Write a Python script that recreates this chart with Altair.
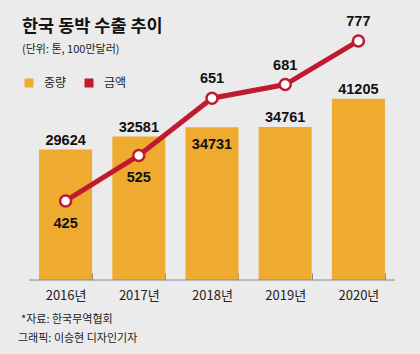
import altair as alt
import pandas as pd

years = ["2016년", "2017년", "2018년", "2019년", "2020년"]
weights = [29624, 32581, 34731, 34761, 41205]
amounts = [425, 525, 651, 681, 777]
series_names = ["중량", "금액"]

title_text = "한국 동박 수출 추이"
unit_text = "(단위: 톤, 100만달러)"
source_text = "*자료: 한국무역협회"
credit_text = "그래픽: 이승현 디자인기자"

ORANGE = "#EFAB30"
RED = "#C01A30"
BG = "#EBEBEB"
KFONT = "Noto Sans CJK KR"
NFONT = "Liberation Sans"

df = pd.DataFrame({"year": years, "weight": weights, "amount": amounts})
df["series"] = series_names[0]

x = alt.X(
    "year:N",
    sort=years,
    scale=alt.Scale(paddingInner=0.276, paddingOuter=0.138),
    axis=alt.Axis(
        title=None, domain=False, grid=False, tickBand="extent", tickSize=7,
        tickColor="#8a8a8a", tickWidth=1, offset=-7, labelPadding=9,
        labelFont=KFONT, labelFontSize=13, labelColor="#222222", labelAngle=0,
    ),
)
yb = alt.Y("weight:Q", scale=alt.Scale(domain=[0, 56800]), axis=None)
yl = alt.Y("amount:Q", scale=alt.Scale(domain=[251, 801]), axis=None)

base = alt.Chart(df)

bars = base.mark_bar(color=ORANGE).encode(
    x=x, y=yb,
    color=alt.Color(
        "series:N",
        scale=alt.Scale(domain=series_names, range=[ORANGE, RED]),
        legend=alt.Legend(
            orient="none", legendX=-6, legendY=47, direction="horizontal",
            title=None, symbolType="square", symbolSize=81, symbolStrokeWidth=0,
            labelFont=KFONT, labelFontSize=12, labelColor="#222222",
            labelOffset=9, columnPadding=16,
        ),
    ),
)

num_style = dict(font=NFONT, fontSize=14.5, fontWeight="bold", color="#111111",
                 baseline="alphabetic", align="center")

inside = alt.FieldOneOfPredicate(field="year", oneOf=["2018년"])
below = alt.FieldOneOfPredicate(field="year", oneOf=["2016년", "2017년"])

btext_above = base.mark_text(dy=-5, **num_style).encode(
    x=x, y=yb, text=alt.Text("weight:Q", format="d")
).transform_filter("datum.year != '2018년'")
btext_inside = base.mark_text(dy=22, **num_style).encode(
    x=x, y=yb, text=alt.Text("weight:Q", format="d")
).transform_filter(inside)

line = base.mark_line(color=RED, strokeWidth=5).encode(x=x, y=yl)
pts = base.mark_point(shape="circle", filled=True, fill="white", stroke=RED,
                      strokeWidth=2.5, size=121, opacity=1).encode(x=x, y=yl)
ltext_above = base.mark_text(dy=-15, **num_style).encode(
    x=x, y=yl, text=alt.Text("amount:Q", format="d")
).transform_filter("datum.year != '2016년' && datum.year != '2017년'")
ltext_below = base.mark_text(dy=27, **num_style).encode(
    x=x, y=yl, text=alt.Text("amount:Q", format="d")
).transform_filter(below)

baseline = alt.Chart(pd.DataFrame({"a": [0]})).mark_rule(
    color="#8a8a8a", strokeWidth=1
).encode(x=alt.value(0), x2=alt.value(366), y=alt.value(250))


def label(txt, xv, yv, size, weight="normal", color="#222222"):
    return alt.Chart(pd.DataFrame({"t": [txt]})).mark_text(
        font=KFONT, fontSize=size, fontWeight=weight, color=color,
        align="left", baseline="middle",
    ).encode(x=alt.value(xv), y=alt.value(yv), text="t:N")


chart = alt.layer(
    bars, btext_above, btext_inside, baseline,
    line, pts, ltext_above, ltext_below,
    label(title_text, -7, -3, 17.5, "bold", "#111111"),
    label(unit_text, -7, 20, 11),
    label(source_text, -8, 290, 11),
    label(credit_text, -11, 309, 11),
).resolve_scale(y="independent").properties(
    width=366, height=250,
    autosize=alt.AutoSizeParams(type="none"),
    padding={"left": 29, "top": 30, "right": 25, "bottom": 74},
    background=BG,
).configure_view(stroke=None)

chart.save("out.html", embed_options={"renderer": "svg", "actions": False})
